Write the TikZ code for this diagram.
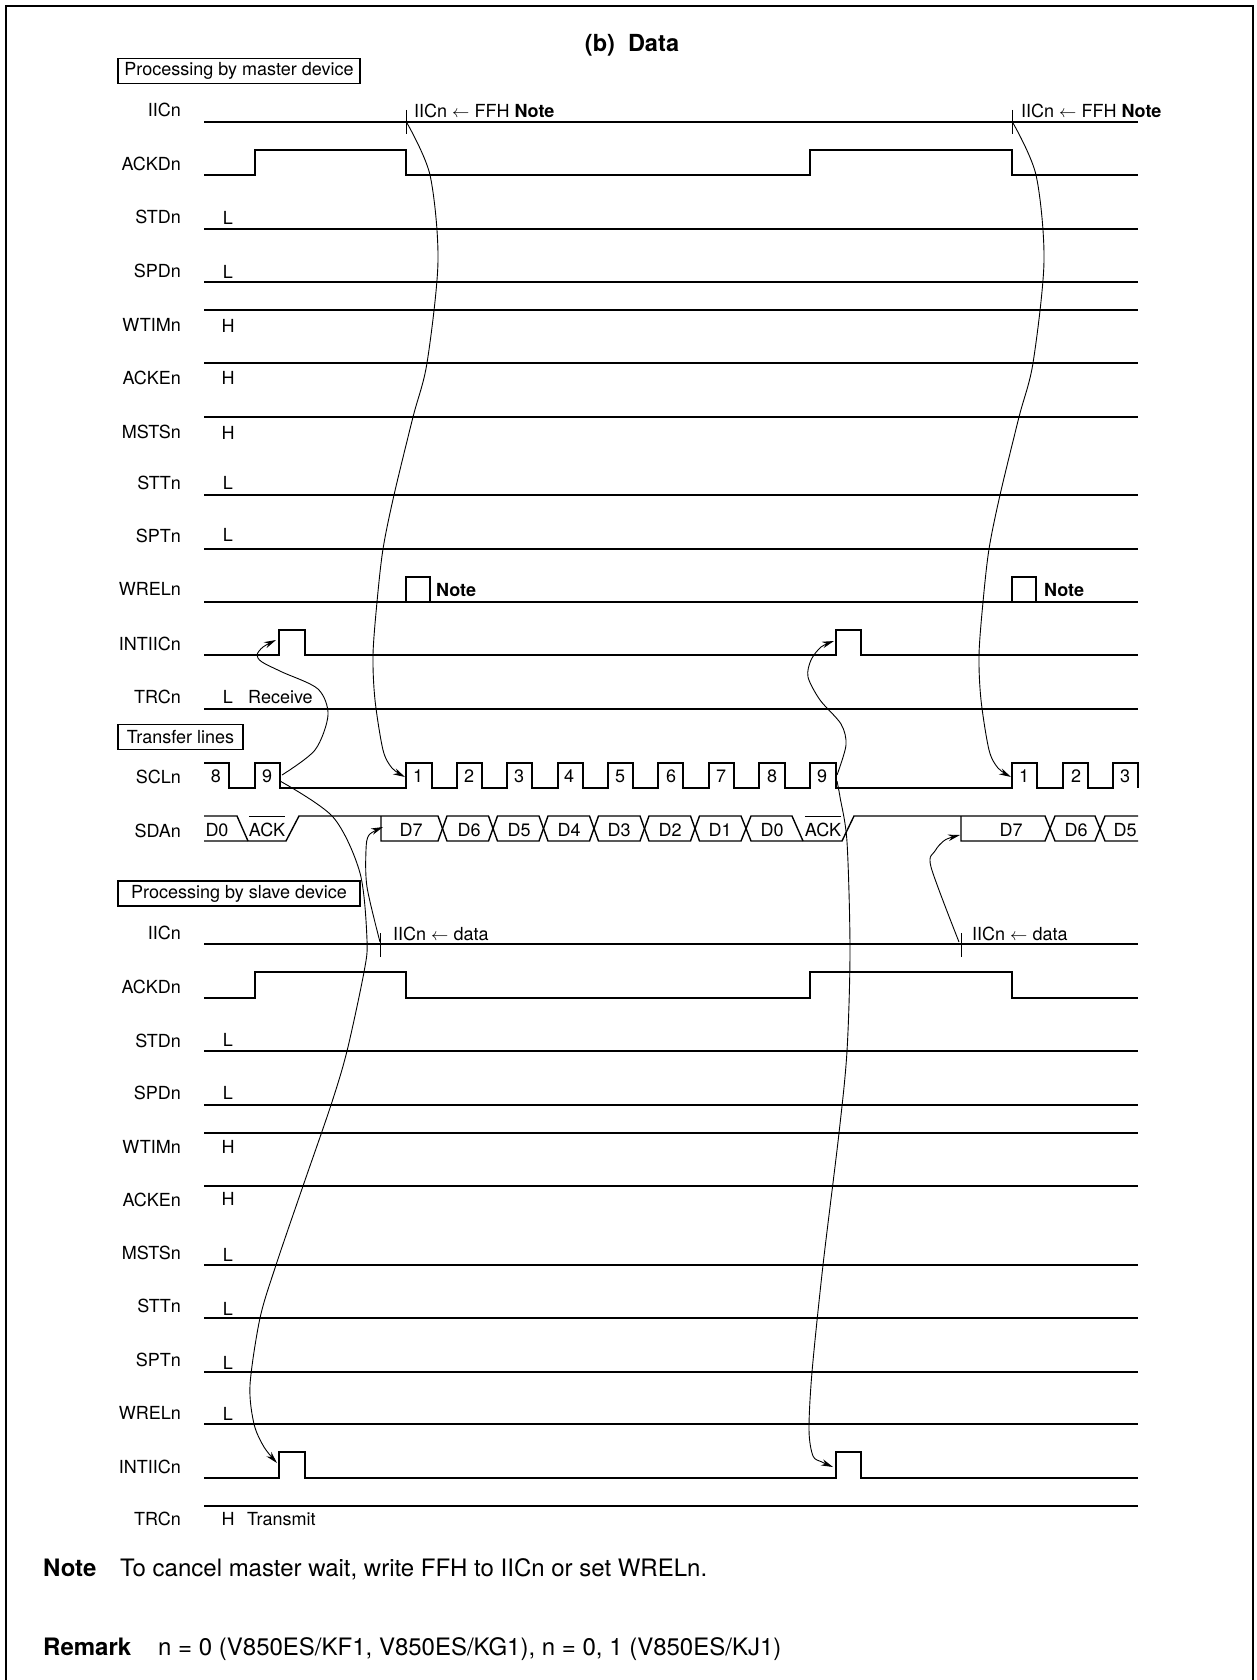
\documentclass[tikz,border=0pt]{standalone}
\usepackage{fontspec}
\setmainfont{TeX Gyre Heros}
\usetikzlibrary{arrows.meta}
\begin{document}
\begin{tikzpicture}[x=1pt, y=-1pt, >={Stealth[length=12pt,width=6.5pt]},
    sig/.style={line width=1.4pt, line join=miter},
    curve/.style={line width=0.9pt},
    tick/.style={line width=1pt},
    lbl/.style={anchor=base east, inner sep=0pt, font=\fontsize{18}{18}\selectfont},
    lvl/.style={anchor=base, inner sep=0pt, font=\fontsize{18}{18}\selectfont},
    txt/.style={anchor=base west, inner sep=0pt, font=\fontsize{18}{18}\selectfont},
    bit/.style={anchor=base, inner sep=0pt, font=\fontsize{18}{18}\selectfont},
    foot/.style={anchor=base west, inner sep=0pt, font=\fontsize{24}{24}\selectfont},
    head/.style={draw, line width=1.3pt, inner sep=0pt, minimum height=25pt, font=\fontsize{18}{18}\selectfont}]
\useasboundingbox (0,0) rectangle (1256,1680);
\draw[line width=2.4pt](6,1680)--(6,6)--(1253,6)--(1253,1680);
\node[anchor=base, inner sep=0pt, font=\fontsize{23.5}{23.5}\selectfont\bfseries] (title) at (632,52) {(b)\ \ Data};
\node[head, minimum width=242pt] (boxmaster) at (239,71) {Processing by master device};
\node[head, minimum width=125pt] (boxlines) at (180.5,737) {Transfer lines};
\node[head, minimum width=242pt] (boxslave) at (239,893.5) {Processing by slave device};
% master
\node[lbl] (iicm) at (181,117) {IICn};
\draw[sig](204,122)--(1138,122);
\draw[tick](406,110)--(406,134);
\draw[tick](1012,110)--(1012,134);
\coordinate (ticka) at (407,123);
\coordinate (tickb) at (1013,123);
\node[txt] (feha) at (414,118) {IICn $\leftarrow$ FFH \textbf{Note}};
\node[txt] (fehb) at (1021,118) {IICn $\leftarrow$ FFH \textbf{Note}};
\node[lbl] (ackdm) at (181,171) {ACKDn};
\draw[sig](204,175)--(255,175)--(255,150)--(406,150)--(406,175)--(810,175)--(810,150)--(1012,150)--(1012,175)--(1138,175);
\node[lbl] (stdm) at (181,224) {STDn};
\node[lvl] (stdml) at (228,225) {L};
\draw[sig](204,229)--(1138,229);
\node[lbl] (spdm) at (181,277) {SPDn};
\node[lvl] (spdml) at (228,278) {L};
\draw[sig](204,282)--(1138,282);
\node[lbl] (wtimm) at (181,331) {WTIMn};
\node[lvl] (wtimml) at (228,332) {H};
\draw[sig](204,310)--(1138,310);
\node[lbl] (ackem) at (181,384) {ACKEn};
\node[lvl] (ackeml) at (228,384) {H};
\draw[sig](204,363)--(1138,363);
\node[lbl] (mstsm) at (181,438) {MSTSn};
\node[lvl] (mstsml) at (228,439) {H};
\draw[sig](204,417)--(1138,417);
\node[lbl] (sttm) at (181,489) {STTn};
\node[lvl] (sttml) at (228,489) {L};
\draw[sig](204,495)--(1138,495);
\node[lbl] (sptm) at (181,542) {SPTn};
\node[lvl] (sptml) at (228,541) {L};
\draw[sig](204,549)--(1138,549);
\node[lbl] (wrelm) at (181,595) {WRELn};
\draw[sig](204,602)--(1138,602);
\draw[sig](406,602)--(406,577)--(430,577)--(430,602);
\draw[sig](1012,602)--(1012,577)--(1036,577)--(1036,602);
\node[txt] (wnotea) at (436,596) {\textbf{Note}};
\node[txt] (wnoteb) at (1044,596) {\textbf{Note}};
\node[lbl] (intm) at (181,650) {INTIICn};
\draw[sig](204,655)--(279,655)--(279,630)--(305,630)--(305,655)--(836,655)--(836,630)--(861,630)--(861,655)--(1138,655);
\coordinate (inta) at (276,640);
\coordinate (intb) at (834,641);
\node[lbl] (trcm) at (181,703) {TRCn};
\node[lvl] (trcml) at (228,703) {L};
\node[txt] (recv) at (248,703) {Receive};
\draw[sig](204,709)--(1138,709);
% lines
\node[lbl] (scl) at (181,783) {SCLn};
\draw[sig](204,763)--(229,763)--(229,788)--(255,788)--(255,763)--(280,763)--(280,788)--(406,788)--(406,763)--(432,763)--(432,788)--(457,788)--(457,763)--(482,763)--(482,788)--(507,788)--(507,763)--(532,763)--(532,788)--(558,788)--(558,763)--(583,763)--(583,788)--(608,788)--(608,763)--(633,763)--(633,788)--(658,788)--(658,763)--(683,763)--(683,788)--(709,788)--(709,763)--(734,763)--(734,788)--(759,788)--(759,763)--(785,763)--(785,788)--(810,788)--(810,763)--(836,763)--(836,788)--(1012,788)--(1012,763)--(1037,763)--(1037,788)--(1063,788)--(1063,763)--(1088,763)--(1088,788)--(1113,788)--(1113,763)--(1138,763)--(1138,788);
\node[bit] (s8a) at (216,782) {8};
\node[bit] (s9a) at (267,782) {9};
\node[bit] (s1a) at (418,782) {1};
\node[bit] (s2a) at (469,782) {2};
\node[bit] (s3a) at (519,782) {3};
\node[bit] (s4a) at (569,782) {4};
\node[bit] (s5a) at (620,782) {5};
\node[bit] (s6a) at (671,782) {6};
\node[bit] (s7a) at (721,782) {7};
\node[bit] (s8b) at (772,782) {8};
\node[bit] (s9b) at (822,782) {9};
\node[bit] (s1b) at (1024,782) {1};
\node[bit] (s2b) at (1076,782) {2};
\node[bit] (s3b) at (1125,782) {3};
\coordinate (scla) at (282,775);
\coordinate (sclb) at (280,781);
\coordinate (sclc) at (837,775);
\coordinate (scld) at (837,781);
\coordinate (sclm) at (405,777);
\coordinate (scln) at (1011,777);
\node[lbl] (sda) at (181,837) {SDAn};
\draw[sig](204,816)--(237,816)--(248,841);
\draw[sig](204,841)--(286,841)--(299,816)--(381,816)--(438,816)--(447,841)--(488.5,841)--(497.5,816)--(539,816)--(548,841)--(589.5,841)--(598.5,816)--(640,816)--(649,841)--(690.5,841)--(699.5,816)--(741,816)--(751,841)--(842,841)--(854,816)--(961,816)--(1045,816)--(1055,841)--(1095,841)--(1105,816)--(1138,816);
\draw[sig](381,816)--(381,841)--(438,841)--(447,816)--(488.5,816)--(497.5,841)--(539,841)--(548,816)--(589.5,816)--(598.5,841)--(640,841)--(649,816)--(690.5,816)--(699.5,841)--(741,841)--(751,816)--(792,816)--(803,841);
\draw[sig](961,816)--(961,841)--(1045,841)--(1055,816)--(1095,816)--(1105,841)--(1138,841);
\node[bit] (d0a) at (217,836) {D0};
\node[bit] (acka) at (267,836) {$\overline{\rule{0pt}{18pt}\mbox{ACK}}$};
\node[bit] (d7a) at (411,836) {D7};
\node[bit] (d6a) at (469,836) {D6};
\node[bit] (d5a) at (519,836) {D5};
\node[bit] (d4a) at (569,836) {D4};
\node[bit] (d3a) at (619,836) {D3};
\node[bit] (d2a) at (670,836) {D2};
\node[bit] (d1a) at (720,836) {D1};
\node[bit] (d0b) at (772,836) {D0};
\node[bit] (ackb) at (823,836) {$\overline{\rule{0pt}{18pt}\mbox{ACK}}$};
\node[bit] (d7b) at (1011,836) {D7};
\node[bit] (d6b) at (1076,836) {D6};
\node[bit] (d5b) at (1125,836) {D5};
\coordinate (sdaa) at (383,827);
\coordinate (sdab) at (960,835);
% slave
\node[lbl] (iics) at (181,939) {IICn};
\draw[sig](204,944)--(1138,944);
\draw[tick](380,933)--(380,957);
\draw[tick](961,933)--(961,957);
\coordinate (ticks) at (380,942);
\coordinate (tickt) at (959,942);
\node[txt] (dataa) at (393,940) {IICn $\leftarrow$ data};
\node[txt] (datab) at (972,940) {IICn $\leftarrow$ data};
\node[lbl] (ackds) at (181,993) {ACKDn};
\draw[sig](204,998)--(255,998)--(255,972)--(406,972)--(406,998)--(810,998)--(810,972)--(1012,972)--(1012,998)--(1138,998);
\node[lbl] (stds) at (181,1047) {STDn};
\node[lvl] (stdsl) at (228,1046) {L};
\draw[sig](204,1051)--(1138,1051);
\node[lbl] (spds) at (181,1099) {SPDn};
\node[lvl] (spdsl) at (228,1099) {L};
\draw[sig](204,1105)--(1138,1105);
\node[lbl] (wtims) at (181,1153) {WTIMn};
\node[lvl] (wtimsl) at (228,1153) {H};
\draw[sig](204,1133)--(1138,1133);
\node[lbl] (ackes) at (181,1206) {ACKEn};
\node[lvl] (ackesl) at (228,1205) {H};
\draw[sig](204,1186)--(1138,1186);
\node[lbl] (mstss) at (181,1259) {MSTSn};
\node[lvl] (mstssl) at (228,1261) {L};
\draw[sig](204,1265)--(1138,1265);
\node[lbl] (stts) at (181,1312) {STTn};
\node[lvl] (sttsl) at (228,1315) {L};
\draw[sig](204,1318)--(1138,1318);
\node[lbl] (spts) at (181,1366) {SPTn};
\node[lvl] (sptsl) at (228,1369) {L};
\draw[sig](204,1372)--(1138,1372);
\node[lbl] (wrels) at (181,1419) {WRELn};
\node[lvl] (wrelsl) at (228,1420) {L};
\draw[sig](204,1424)--(1138,1424);
\node[lbl] (ints) at (181,1473) {INTIICn};
\draw[sig](204,1478)--(279,1478)--(279,1452)--(305,1452)--(305,1478)--(836,1478)--(836,1452)--(861,1452)--(861,1478)--(1138,1478);
\coordinate (intc) at (277,1463);
\coordinate (intd) at (833,1467);
\node[lbl] (trcs) at (181,1525) {TRCn};
\node[lvl] (trcsl) at (228,1525) {H};
\node[txt] (xmit) at (247,1525) {Transmit};
\draw[sig](204,1506)--(1138,1506);
% curves
\draw[curve,->] plot[smooth] coordinates {(ticka) (430,175) (438,261) (427,363) (413,417) (394,495) (383,549) (377,602) (373,655) (375,700) (383,750) (392,768) (sclm)};
\draw[curve,->] plot[smooth] coordinates {(tickb) (1036,175) (1044,261) (1033,363) (1019,417) (1000,495) (989,549) (983,602) (979,655) (981,700) (989,750) (998,768) (scln)};
\draw[curve,->] plot[smooth] coordinates {(scla) (315,750) (328,715) (318,689) (282,672) (262,662) (257,655) (263,647) (inta)};
\draw[curve,->] plot[smooth] coordinates {(sclc) (846,745) (841,724) (820,700) (808,677) (811,660) (821,647) (intb)};
\draw[curve,->] plot[smooth] coordinates {(sclb) (333,817) (360,873) (367,940) (364,972) (347,1051) (331,1105) (303,1186) (276,1265) (260,1318) (250,1385) (254,1424) (264,1447) (intc)};
\draw[curve,->] plot[smooth] coordinates {(scld) (840,797) (847,842) (850,950) (847,1051) (839,1133) (823,1265) (812,1372) (809,1430) (813,1456) (822,1462) (intd)};
\draw[curve,->] plot[smooth] coordinates {(ticks) (367,887) (366,850) (369,835) (sdaa)};
\draw[curve,->] plot[smooth] coordinates {(tickt) (931,867) (935,851) (945,840) (sdab)};
% notes
\node[foot] (notehead) at (43,1576) {\textbf{Note}};
\node[foot] (notetext) at (120,1576) {To cancel master wait, write FFH to IICn or set WRELn.};
\node[foot] (remhead) at (43,1655) {\textbf{Remark}};
\node[foot] (remtext) at (158,1655) {n = 0 (V850ES/KF1, V850ES/KG1), n = 0, 1 (V850ES/KJ1)};
\end{tikzpicture}
\end{document}
